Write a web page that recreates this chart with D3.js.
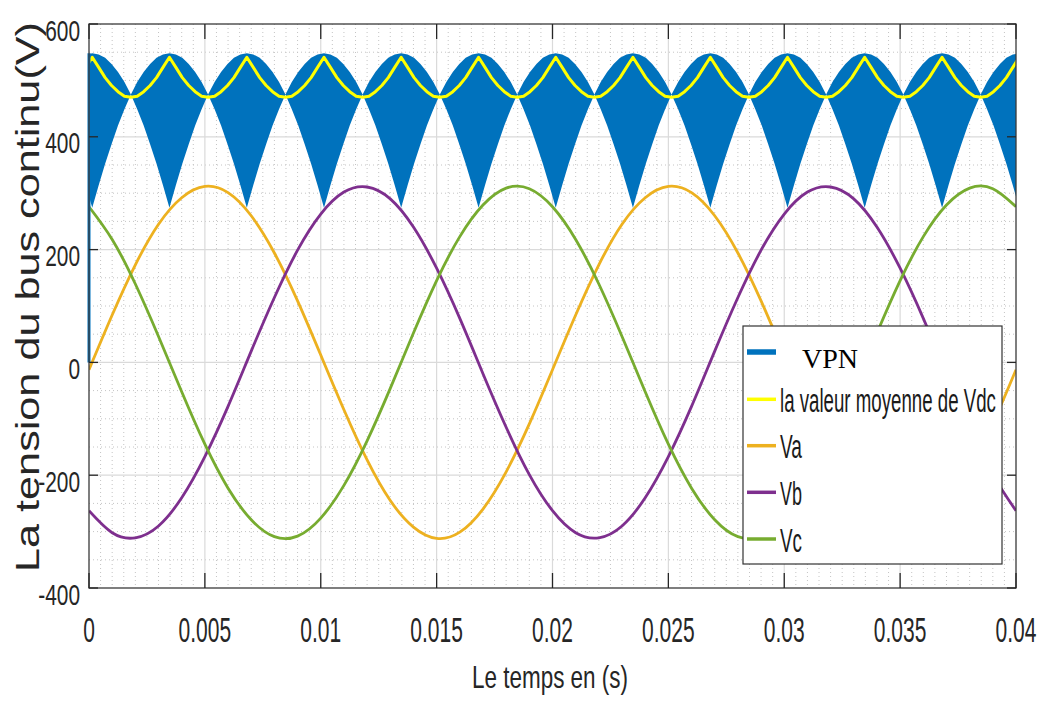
<!DOCTYPE html>
<html>
<head>
<meta charset="utf-8">
<script src="https://cdn.jsdelivr.net/npm/d3@7"></script>
<style>
  body { margin: 0; background: #ffffff; }
  svg { display: block; }
</style>
</head>
<body>
<svg id="chart" width="1040" height="704"></svg>
<script>
// ---------------- DATA ----------------
const xTicks = [0, 0.005, 0.01, 0.015, 0.02, 0.025, 0.03, 0.035, 0.04];
const xTickLabels = ["0", "0.005", "0.01", "0.015", "0.02", "0.025", "0.03", "0.035", "0.04"];
const yTicks = [-400, -200, 0, 200, 400, 600];
const yTickLabels = ["-400", "-200", "0", "200", "400", "600"];

// phase voltages, sampled every 1 ms
const phaseTimesMs = [0,1,2,3,4,5,6,7,8,9,10,11,12,13,14,15,16,17,18,19,20,
  21,22,23,24,25,26,27,28,29,30,31,32,33,34,35,36,37,38,39,40];
const Va = [-13,84,173,245,292,312,301,260,194,109,13,-84,-173,-245,-292,-312,-301,-260,-194,-109,
  -13,84,173,245,292,312,301,260,194,109,13,-84,-173,-245,-292,-312,-301,-260,-194,-109,-13];
const Vb = [-263,-302,-311,-290,-240,-167,-78,20,115,199,263,302,311,290,240,167,78,-20,-115,-199,
  -263,-302,-311,-290,-240,-167,-78,20,115,199,263,302,311,290,240,167,78,-20,-115,-199,-263];
const Vc = [276,218,139,46,-52,-145,-223,-279,-309,-308,-276,-218,-139,-46,52,145,223,279,309,308,
  276,218,139,46,-52,-145,-223,-279,-309,-308,-276,-218,-139,-46,52,145,223,279,309,308,276];

// VPN (switching band) and its mean: one 6-pulse arc read around each ripple peak
const vpnPeakTimesMs = [0.14, 3.47, 6.81, 10.14, 13.47, 16.81, 20.14, 23.47, 26.81, 30.14, 33.47, 36.81, 40.14];
const vpnOffsetsMs = [-1.667, -1.389, -1.111, -0.833, -0.556, -0.278, 0, 0.278, 0.556, 0.833, 1.111, 1.389, 1.667];
const vpnUpper = [475, 497, 515, 529, 540, 546, 548, 546, 540, 529, 515, 497, 475];
const vpnLower = [475, 449, 420, 387, 352, 314, 274, 314, 352, 387, 420, 449, 475];
const vdcMean  = [470, 472, 480, 491, 505, 523, 541, 523, 505, 491, 480, 472, 470];
// start-up jump of VPN at t = 0
const vpnStartTimesMs = [0, 0];
const vpnStartValues = [0, 548];

const legendLabels = ["VPN", "la valeur moyenne de Vdc", "Va", "Vb", "Vc"];
const seriesColors = ["#0072BD", "#FFFF00", "#EDB120", "#7E2F8E", "#77AC30"];

// ---------------- LAYOUT ----------------
const svg = d3.select("#chart");
const L = 89, T = 24, R = 1016, B = 588;
const x = d3.scaleLinear().domain([0, 0.04]).range([L, R]);
const y = d3.scaleLinear().domain([-400, 600]).range([B, T]);

svg.append("rect").attr("width", 1040).attr("height", 704).attr("fill", "#fff");

svg.append("defs").append("clipPath").attr("id", "plotClip")
  .append("rect").attr("x", L).attr("y", T).attr("width", R - L).attr("height", B - T);

// text squeezed horizontally to a target width (reference glyphs are condensed)
function fitText(parent, str, tx, ty, size, target, anchor, family, fill, rotate) {
  const t = parent.append("text").attr("x", 0).attr("y", 0)
    .attr("text-anchor", anchor || "start")
    .style("font-family", family).style("font-size", size + "px")
    .attr("fill", fill).text(str);
  const w = t.node().getComputedTextLength();
  const s = target / w;
  t.attr("transform", `translate(${tx},${ty})${rotate ? " rotate(" + rotate + ")" : ""} scale(${s},1)`);
  return t;
}

// ---------------- GRID ----------------
const grid = svg.append("g");
const xMinor = d3.range(1, 80).map(i => i * 0.0005).filter((v, i) => (i + 1) % 10 !== 0);
const yMinor = d3.range(-350, 600, 50).filter(v => v % 200 !== 0);
grid.selectAll("line.xm").data(xMinor).join("line")
  .attr("x1", d => x(d)).attr("x2", d => x(d)).attr("y1", T).attr("y2", B)
  .attr("stroke", "#c4c4c4").attr("stroke-width", 1).attr("stroke-dasharray", "1,3");
grid.selectAll("line.ym").data(yMinor).join("line")
  .attr("x1", L).attr("x2", R).attr("y1", d => y(d)).attr("y2", d => y(d))
  .attr("stroke", "#c4c4c4").attr("stroke-width", 1).attr("stroke-dasharray", "1,3");
grid.selectAll("line.xM").data(xTicks.slice(1, -1)).join("line")
  .attr("x1", d => x(d)).attr("x2", d => x(d)).attr("y1", T).attr("y2", B)
  .attr("stroke", "#dadada").attr("stroke-width", 1.2);
grid.selectAll("line.yM").data(yTicks.slice(1, -1)).join("line")
  .attr("x1", L).attr("x2", R).attr("y1", d => y(d)).attr("y2", d => y(d))
  .attr("stroke", "#dadada").attr("stroke-width", 1.2);

// ---------------- SERIES ----------------
const vpnSeries = [];
vpnPeakTimesMs.forEach((p, i) => {
  vpnOffsetsMs.forEach((o, j) => {
    if (i > 0 && j === 0) return;
    vpnSeries.push({ t: (p + o) / 1000, hi: vpnUpper[j], lo: vpnLower[j], avg: vdcMean[j] });
  });
});

const plot = svg.append("g").attr("clip-path", "url(#plotClip)");

plot.append("path").datum(vpnSeries)
  .attr("d", d3.area().x(d => x(d.t)).y0(d => y(d.lo)).y1(d => y(d.hi)))
  .attr("fill", seriesColors[0]);

svg.append("path").datum(vpnStartTimesMs.map((t, i) => ({ t: t / 1000, v: vpnStartValues[i] })))
  .attr("d", d3.line().x(d => x(d.t)).y(d => y(d.v)))
  .attr("stroke", seriesColors[0]).attr("stroke-width", 3).attr("fill", "none");

plot.append("path").datum(vpnSeries)
  .attr("d", d3.line().x(d => x(d.t)).y(d => y(d.avg)))
  .attr("fill", "none").attr("stroke", seriesColors[1]).attr("stroke-width", 3)
  .attr("stroke-linejoin", "round");

const phaseLine = d3.line().curve(d3.curveNatural).x(d => x(d.t)).y(d => y(d.v));
[Va, Vb, Vc].forEach((arr, k) => {
  plot.append("path")
    .datum(phaseTimesMs.map((t, i) => ({ t: t / 1000, v: arr[i] })))
    .attr("d", phaseLine)
    .attr("fill", "none").attr("stroke", seriesColors[k + 2]).attr("stroke-width", 2.8);
});

// ---------------- AXES / FRAME ----------------
const axisColor = "#262626";
const ax = svg.append("g");
ax.append("rect").attr("x", L).attr("y", T).attr("width", R - L).attr("height", B - T)
  .attr("fill", "none").attr("stroke", "#3a3a3a").attr("stroke-width", 1.3);
ax.selectAll("line.bt").data(xTicks).join("line")
  .attr("x1", d => x(d)).attr("x2", d => x(d)).attr("y1", B).attr("y2", B - 15)
  .attr("stroke", axisColor).attr("stroke-width", 1.3);
ax.selectAll("line.tt").data(xTicks).join("line")
  .attr("x1", d => x(d)).attr("x2", d => x(d)).attr("y1", T).attr("y2", T + 15)
  .attr("stroke", axisColor).attr("stroke-width", 1.3);
ax.selectAll("line.lt").data(yTicks).join("line")
  .attr("x1", L).attr("x2", L + 9).attr("y1", d => y(d)).attr("y2", d => y(d))
  .attr("stroke", axisColor).attr("stroke-width", 1.3);
ax.selectAll("line.rt").data(yTicks).join("line")
  .attr("x1", R).attr("x2", R - 9).attr("y1", d => y(d)).attr("y2", d => y(d))
  .attr("stroke", axisColor).attr("stroke-width", 1.3);

const sans = "'Liberation Sans', Arial, Helvetica, sans-serif";
ax.selectAll("text.xl").data(xTicks).join("text")
  .attr("transform", d => `translate(${x(d)},641.5) scale(0.6,1)`)
  .attr("text-anchor", "middle")
  .style("font-family", sans).style("font-size", "35px").attr("fill", axisColor)
  .text((d, i) => xTickLabels[i]);
ax.selectAll("text.yl").data(yTicks).join("text")
  .attr("transform", d => `translate(80,${y(d) + 16.5}) scale(0.72,1)`)
  .attr("text-anchor", "end")
  .style("font-family", sans).style("font-size", "29px").attr("fill", axisColor)
  .text((d, i) => yTickLabels[i]);

fitText(svg, "Le temps en (s)", 550, 688, 32, 156, "middle", sans, axisColor);
fitText(svg, "La tension du bus continu(V)", 39, 297, 33, 550, "middle", sans, axisColor, -90);

// ---------------- LEGEND ----------------
const lg = svg.append("g");
lg.append("rect").attr("x", 743).attr("y", 326).attr("width", 259).attr("height", 238)
  .attr("fill", "#fff").attr("stroke", "#333").attr("stroke-width", 1.2);
const rowY = [352, 399.3, 445.7, 492.3, 539];
const rowW = [null, 216, 22, 22, 22];
legendLabels.forEach((lab, i) => {
  lg.append("line").attr("x1", 747).attr("x2", 776).attr("y1", rowY[i]).attr("y2", rowY[i])
    .attr("stroke", seriesColors[i]).attr("stroke-width", i === 0 ? 5.5 : 3.5);
  if (i === 0) {
    lg.append("text").attr("x", 802).attr("y", rowY[i] + 16)
      .style("font-family", "'Liberation Serif', 'Times New Roman', serif")
      .style("font-size", "28px").attr("fill", "#000").text(lab);
  } else {
    fitText(lg, lab, 780, rowY[i] + 12.5, 34, rowW[i], "start", sans, "#1a1a1a");
  }
});
</script>
</body>
</html>
